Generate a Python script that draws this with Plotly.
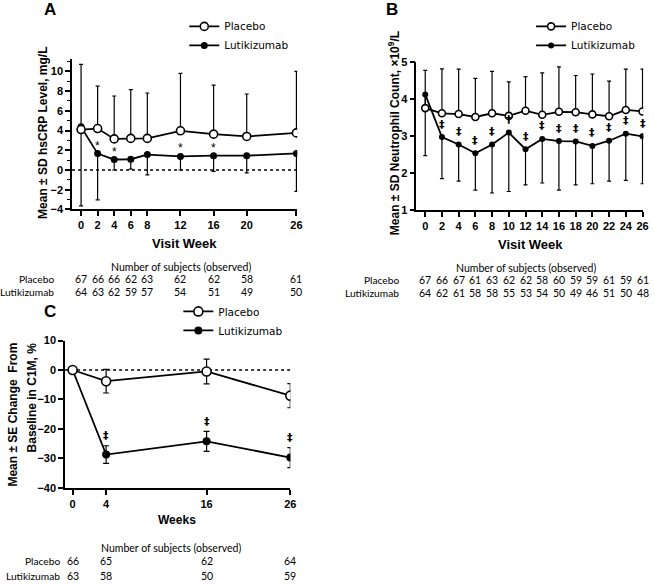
import plotly.graph_objects as go

W, H = 655, 586

# ---------------- Data ----------------
# Panel A: hsCRP (mg/L), mean ± SD
weeks_a = [0, 2, 4, 6, 8, 12, 16, 20, 26]
a_placebo_mean = [4.1, 4.2, 3.15, 3.2, 3.2, 3.97, 3.63, 3.4, 3.76]
a_placebo_sd = [6.6, 4.3, 4.35, 4.95, 4.6, 5.83, 4.97, 4.3, 6.24]
a_luti_mean = [4.37, 1.66, 1.06, 1.09, 1.56, 1.37, 1.45, 1.45, 1.68]
a_luti_sd = [8.0, 4.7, 1.06, 1.0, 2.06, 1.37, 1.6, 1.75, 3.84]
a_sig = ["", "*", "*", "", "", "*", "*", "", ""]
a_n_placebo = [67, 66, 66, 62, 63, 62, 62, 58, 61]
a_n_luti = [64, 63, 62, 59, 57, 54, 51, 49, 50]

# Panel B: neutrophil count (x10^9/L), mean ± SD
weeks_b = [0, 2, 4, 6, 8, 10, 12, 14, 16, 18, 20, 22, 24, 26]
b_placebo_mean = [3.76, 3.62, 3.60, 3.52, 3.62, 3.55, 3.69, 3.58, 3.66, 3.65, 3.59, 3.54, 3.71, 3.67]
b_placebo_sd = [1.02, 1.20, 1.21, 1.04, 1.13, 0.92, 0.92, 1.13, 1.21, 0.99, 1.09, 0.95, 1.10, 1.14]
b_luti_mean = [4.13, 2.98, 2.78, 2.54, 2.78, 3.10, 2.65, 2.93, 2.87, 2.86, 2.74, 2.88, 3.07, 3.00]
b_luti_sd = [1.65, 1.12, 0.99, 0.99, 1.31, 1.59, 0.96, 1.19, 1.32, 1.17, 1.02, 1.09, 1.26, 1.28]
b_sig = ["", "‡", "‡", "‡", "‡", "†", "‡", "‡", "‡", "‡", "‡", "‡", "‡", "‡"]
b_n_placebo = [67, 66, 67, 61, 63, 62, 62, 58, 60, 59, 59, 61, 59, 61]
b_n_luti = [64, 62, 61, 58, 58, 55, 53, 54, 50, 49, 46, 51, 50, 48]

# Panel C: % change from baseline in C1M, mean ± SE
weeks_c = [0, 4, 16, 26]
c_placebo_mean = [0, -3.8, -0.5, -8.7]
c_placebo_se = [0, 4.0, 4.2, 4.1]
c_luti_mean = [0, -28.7, -24.2, -29.7]
c_luti_se = [0, 3.0, 3.4, 3.4]
c_sig = ["", "‡", "‡", "‡"]
c_n_placebo = [66, 65, 62, 64]
c_n_luti = [63, 58, 50, 59]

# ---------------- helpers ----------------
def fx(p):
    return p / W

def fy(p):
    return 1 - p / H

BOLD = "Liberation Sans"
TBL = "Lato"
LEG = "DejaVu Sans"

fig = go.Figure()

def add_pair(xs, pm, pe, lm, le, xa, ya, leg, msize, lw, capw, sym):
    # Lutikizumab (error below)
    fig.add_trace(go.Scatter(
        x=xs, y=lm, mode="lines+markers", name="Lutikizumab",
        xaxis=xa, yaxis=ya, legend=leg, legendrank=2,
        line=dict(color="black", width=lw),
        marker=dict(symbol="circle", size=msize - 1, color="black"),
        error_y=dict(type="data", symmetric=False, array=le if sym else [0] * len(le),
                     arrayminus=le, color="black", thickness=1.2, width=capw),
    ))
    # Placebo (error above)
    fig.add_trace(go.Scatter(
        x=xs, y=pm, mode="lines+markers", name="Placebo",
        xaxis=xa, yaxis=ya, legend=leg, legendrank=1,
        line=dict(color="black", width=lw),
        marker=dict(symbol="circle", size=msize, color="white",
                    line=dict(color="black", width=1.6)),
        error_y=dict(type="data", symmetric=False, array=pe,
                     arrayminus=pe if sym else [0] * len(pe),
                     color="black", thickness=1.2, width=capw),
    ))

add_pair(weeks_a, a_placebo_mean, a_placebo_sd, a_luti_mean, a_luti_sd,
         "x", "y", "legend", 8, 1.8, 2, False)
add_pair(weeks_b, b_placebo_mean, b_placebo_sd, b_luti_mean, b_luti_sd,
         "x2", "y2", "legend2", 7, 1.8, 2, False)
add_pair(weeks_c, c_placebo_mean, c_placebo_se, c_luti_mean, c_luti_se,
         "x3", "y3", "legend3", 9, 1.8, 3, True)

axis_common = dict(showline=True, linecolor="black", linewidth=1.6, ticks="outside",
                   ticklen=5, tickwidth=1.5, tickcolor="black", showgrid=False,
                   zeroline=False, tickfont=dict(family=BOLD, size=11, color="black", weight="bold"))

fig.update_layout(
    width=W, height=H, margin=dict(l=0, r=0, t=0, b=0),
    paper_bgcolor="white", plot_bgcolor="white",
    xaxis=dict(domain=[fx(72.7), fx(300)], range=[-1.09, 26.1], anchor="y",
               tickvals=weeks_a, **axis_common),
    yaxis=dict(domain=[fy(207.7), fy(54.6)], range=[-4, 11.2], anchor="x",
               tickvals=[-4, -2, 0, 2, 4, 6, 8, 10],
               minor=dict(ticks="outside", ticklen=3, dtick=1, tickcolor="black", tickwidth=1),
               **axis_common),
    xaxis2=dict(domain=[fx(420.3), fx(649.3)], range=[-1.05, 26.1], anchor="y2",
                tickvals=weeks_b, **axis_common),
    yaxis2=dict(domain=[fy(208.7), fy(57.3)], range=[1, 5], anchor="x2",
                tickvals=[1, 2, 3, 4, 5], **axis_common),
    xaxis3=dict(domain=[fx(65.7), fx(293)], range=[-0.9, 26.0], anchor="y3",
                tickvals=weeks_c, **axis_common),
    yaxis3=dict(domain=[fy(492), fy(341.5)], range=[-40, 10], anchor="x3",
                tickvals=[-40, -30, -20, -10, 0, 10], **axis_common),
)

leg_common = dict(bgcolor="rgba(0,0,0,0)", borderwidth=0, xanchor="left", yanchor="top",
                  font=dict(family=LEG, size=10.5, color="black"), itemwidth=30,
                  traceorder="normal")
fig.update_layout(
    legend=dict(x=fx(186), y=fy(6), **leg_common),
    legend2=dict(x=fx(536), y=fy(6), **leg_common),
    legend3=dict(x=fx(180), y=fy(297), **leg_common),
)

# dotted zero reference lines
for xr, yr in [("x domain", "y"), ("x3 domain", "y3")]:
    fig.add_shape(type="line", xref=xr, yref=yr, x0=0, x1=1, y0=0, y1=0,
                  line=dict(color="black", width=1.6, dash="dot"), layer="below")

ann = []

def txt(x, y, s, size=11, family=TBL, bold=False, xanchor="center", yanchor="middle",
        xref="paper", yref="paper", angle=0, yshift=0, height=None):
    d = dict(x=x, y=y, text=s, xref=xref, yref=yref, showarrow=False,
             xanchor=xanchor, yanchor=yanchor, textangle=angle, yshift=yshift,
             font=dict(family=family, size=size, color="black",
                       weight="bold" if bold else "normal"))
    if height:
        d["height"] = height
    ann.append(d)

# panel letters
txt(fx(50), fy(8), "A", size=17, family=BOLD, bold=True, height=14, yshift=5)
txt(fx(396), fy(8), "B", size=17, family=BOLD, bold=True, height=14, yshift=5)
txt(fx(50), fy(311), "C", size=17, family=BOLD, bold=True, height=14)

# axis titles
txt(fx(186.5), fy(242), "Visit Week", size=13, family=BOLD, bold=True)
txt(fx(535), fy(243), "Visit Week", size=13, family=BOLD, bold=True)
txt(fx(179), fy(525), "Weeks", size=12, family=BOLD, bold=True)
txt(fx(44), fy(130), "Mean ± SD hsCRP Level, mg/L", size=12, family=BOLD, bold=True, angle=-90)
txt(fx(397.5), fy(130), "Mean ± SD Neutrophil Count, ×10<sup>9</sup>/L", size=12,
    family=BOLD, bold=True, angle=-90)
txt(fx(13), fy(341.7), "Mean ± SE Change  From", size=12, family=BOLD, bold=True,
    angle=-90, yanchor="top")
txt(fx(32), fy(341.7), "Baseline in C1M, %", size=12, family=BOLD, bold=True,
    angle=-90, yanchor="top")

# significance markers
for w, m, s in zip(weeks_a, a_luti_mean, a_sig):
    if s:
        txt(w, m, s, size=12, family=BOLD, xref="x", yref="y", yshift=8)
for w, m, s in zip(weeks_b, b_luti_mean, b_sig):
    if s:
        txt(w, m, s, size=11, family="DejaVu Sans", bold=True, xref="x2", yref="y2", yshift=13)
for w, m, e, s in zip(weeks_c, c_luti_mean, c_luti_se, c_sig):
    if s:
        txt(w, m + e, s, size=11, family="DejaVu Sans", bold=True, xref="x3", yref="y3", yshift=10)

# number-of-subjects tables
def table(weeks, npl, nlu, xref, title_x, label_right, y_title, y_pl, y_lu):
    txt(fx(title_x), fy(y_title), "Number of subjects (observed)", size=10.5)
    txt(fx(label_right), fy(y_pl), "Placebo", size=10.2, xanchor="right")
    txt(fx(label_right), fy(y_lu), "Lutikizumab", size=10.2, xanchor="right")
    for w, a, b in zip(weeks, npl, nlu):
        txt(w, fy(y_pl), str(a), size=10.5, xref=xref)
        txt(w, fy(y_lu), str(b), size=10.5, xref=xref)

table(weeks_a, a_n_placebo, a_n_luti, "x", 182.5, 57, 266, 279, 292)
table(weeks_b, b_n_placebo, b_n_luti, "x2", 530.5, 405, 267, 280, 293)
table(weeks_c, c_n_placebo, c_n_luti, "x3", 173, 63, 553, 567, 582)

fig.update_layout(annotations=ann)

fig.write_html("out.html", config={"displayModeBar": False},
               post_script="document.body.style.margin='0';")
